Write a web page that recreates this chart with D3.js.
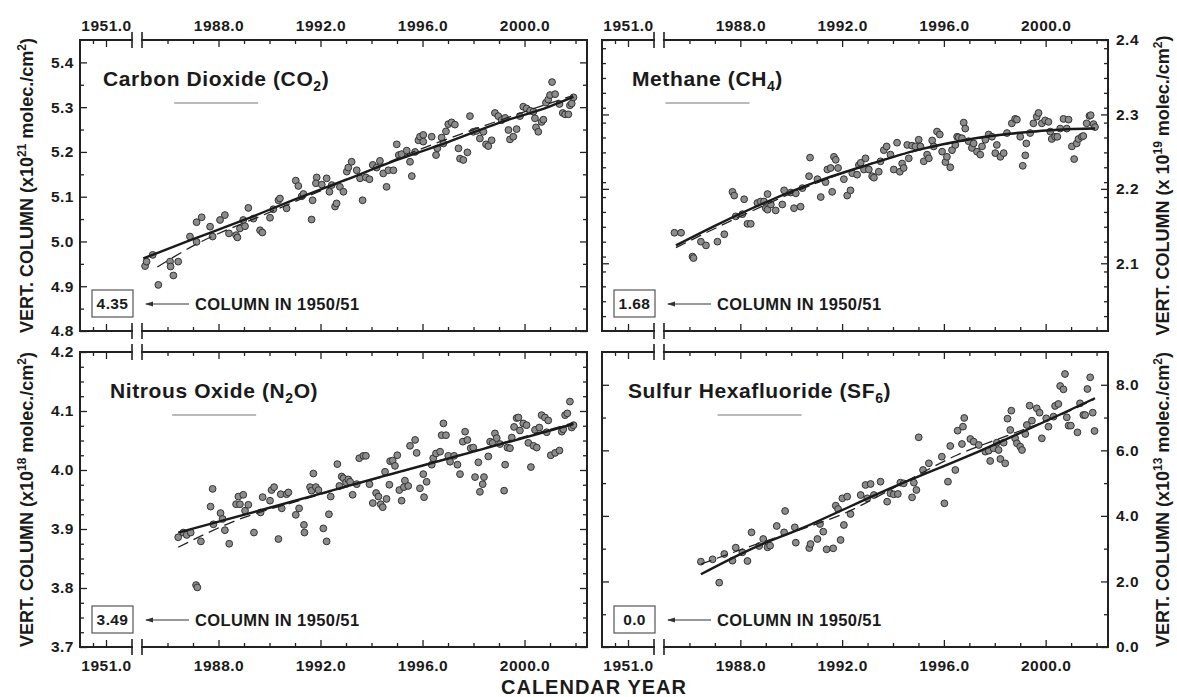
<!DOCTYPE html>
<html>
<head>
<meta charset="utf-8">
<script src="https://cdn.jsdelivr.net/npm/d3@7"></script>
<style>
body { margin: 0; background: #fff; }
svg text { font-family: "Liberation Sans", Arial, sans-serif; font-weight: bold; fill: #1a1a1a; }
</style>
</head>
<body>
<svg id="chart" width="1177" height="697"></svg>
<script>
// Daten: [Jahr, Wert]
const co2Obs = [[1985.12,4.945],[1985.18,4.955],[1985.42,4.970],[1985.64,4.903],[1986.10,4.955],[1986.12,4.944],[1986.23,4.924],[1986.42,4.955],[1986.88,5.011],[1987.14,5.043],[1987.14,4.999],[1987.34,5.054],[1987.67,5.033],[1987.77,5.011],[1988.06,5.048],[1988.25,5.059],[1988.41,5.018],[1988.69,5.014],[1988.74,5.009],[1988.84,5.029],[1988.97,5.048],[1989.04,5.034],[1989.17,5.075],[1989.37,5.051],[1989.63,5.025],[1989.72,5.020],[1990.02,5.053],[1990.15,5.072],[1990.35,5.092],[1990.41,5.096],[1990.67,5.074],[1991.03,5.136],[1991.13,5.124],[1991.26,5.101],[1991.33,5.106],[1991.69,5.092],[1991.65,5.049],[1991.85,5.143],[1991.82,5.130],[1992.05,5.127],[1992.24,5.141],[1992.35,5.111],[1992.44,5.126],[1992.57,5.078],[1992.63,5.085],[1992.76,5.122],[1992.90,5.111],[1993.03,5.156],[1993.09,5.165],[1993.22,5.178],[1993.42,5.159],[1993.55,5.141],[1993.65,5.092],[1993.78,5.143],[1993.92,5.139],[1994.05,5.171],[1994.20,5.165],[1994.33,5.180],[1994.46,5.152],[1994.59,5.122],[1994.66,5.159],[1994.86,5.159],[1994.99,5.217],[1995.07,5.193],[1995.18,5.195],[1995.38,5.203],[1995.51,5.178],[1995.58,5.146],[1995.71,5.200],[1995.84,5.226],[1995.90,5.234],[1996.03,5.238],[1996.03,5.223],[1996.36,5.234],[1996.53,5.193],[1996.58,5.208],[1996.75,5.232],[1996.82,5.219],[1996.92,5.246],[1997.01,5.262],[1997.14,5.266],[1997.27,5.261],[1997.41,5.208],[1997.47,5.185],[1997.60,5.182],[1997.76,5.199],[1997.86,5.280],[1997.99,5.245],[1998.12,5.247],[1998.25,5.230],[1998.39,5.245],[1998.49,5.217],[1998.58,5.213],[1998.71,5.226],[1998.84,5.287],[1998.97,5.280],[1999.10,5.271],[1999.24,5.276],[1999.37,5.249],[1999.43,5.228],[1999.56,5.234],[1999.69,5.251],[1999.82,5.280],[1999.95,5.301],[2000.08,5.297],[2000.22,5.292],[2000.35,5.290],[2000.41,5.275],[2000.45,5.255],[2000.54,5.245],[2000.67,5.267],[2000.74,5.272],[2000.84,5.310],[2000.93,5.317],[2001.00,5.327],[2001.08,5.356],[2001.20,5.329],[2001.37,5.307],[2001.50,5.287],[2001.59,5.284],[2001.72,5.284],[2001.78,5.304],[2001.85,5.308],[2001.92,5.322]];
const co2Fit = [[1985.05,4.962],[1987,5.005],[1989,5.048],[1991,5.094],[1993,5.138],[1995,5.182],[1997,5.222],[1999,5.265],[2001,5.302],[2001.92,5.323]];
const co2Trend = [[1985.6,4.943],[1987,4.990],[1990,5.065],[1993,5.137],[1996,5.208],[1999,5.270],[2001.9,5.326]];

const ch4Obs = [[1985.41,2.141],[1985.67,2.141],[1986.12,2.109],[1986.16,2.107],[1986.45,2.129],[1986.65,2.124],[1987.10,2.129],[1987.37,2.139],[1987.69,2.196],[1987.76,2.191],[1987.82,2.163],[1988.08,2.166],[1988.15,2.186],[1988.28,2.153],[1988.41,2.153],[1988.67,2.181],[1988.80,2.183],[1988.93,2.183],[1989.00,2.174],[1989.07,2.193],[1989.07,2.172],[1989.20,2.179],[1989.39,2.171],[1989.65,2.179],[1989.72,2.198],[1989.98,2.195],[1990.11,2.174],[1990.18,2.194],[1990.37,2.176],[1990.44,2.201],[1990.70,2.217],[1990.74,2.242],[1991.03,2.213],[1991.16,2.189],[1991.35,2.209],[1991.42,2.226],[1991.55,2.228],[1991.61,2.196],[1991.68,2.243],[1991.75,2.239],[1991.84,2.228],[1992.07,2.213],[1992.20,2.191],[1992.33,2.198],[1992.40,2.221],[1992.59,2.219],[1992.66,2.232],[1992.73,2.235],[1992.86,2.226],[1992.92,2.241],[1993.05,2.226],[1993.18,2.217],[1993.25,2.215],[1993.44,2.223],[1993.51,2.237],[1993.64,2.252],[1993.75,2.257],[1993.90,2.246],[1994.03,2.226],[1994.16,2.262],[1994.27,2.223],[1994.36,2.234],[1994.42,2.228],[1994.56,2.259],[1994.62,2.241],[1994.75,2.258],[1994.88,2.257],[1995.01,2.266],[1995.08,2.257],[1995.21,2.237],[1995.34,2.246],[1995.41,2.241],[1995.54,2.265],[1995.60,2.257],[1995.73,2.277],[1995.84,2.273],[1995.93,2.250],[1996.06,2.236],[1996.12,2.243],[1996.25,2.229],[1996.32,2.252],[1996.45,2.259],[1996.52,2.270],[1996.58,2.269],[1996.71,2.268],[1996.78,2.289],[1996.84,2.281],[1996.97,2.264],[1997.10,2.255],[1997.17,2.261],[1997.30,2.250],[1997.43,2.246],[1997.50,2.257],[1997.63,2.266],[1997.76,2.273],[1997.89,2.270],[1998.02,2.248],[1998.08,2.259],[1998.22,2.243],[1998.35,2.248],[1998.48,2.275],[1998.67,2.288],[1998.80,2.294],[1998.87,2.293],[1999.00,2.270],[1999.10,2.231],[1999.20,2.245],[1999.24,2.261],[1999.39,2.275],[1999.52,2.288],[1999.65,2.297],[1999.72,2.302],[1999.85,2.288],[1999.98,2.292],[2000.11,2.290],[2000.18,2.277],[2000.24,2.267],[2000.37,2.270],[2000.46,2.270],[2000.57,2.281],[2000.70,2.294],[2000.83,2.281],[2000.90,2.293],[2001.03,2.257],[2001.12,2.240],[2001.22,2.261],[2001.29,2.267],[2001.42,2.270],[2001.48,2.271],[2001.61,2.288],[2001.72,2.298],[2001.77,2.299],[2001.88,2.287],[2001.94,2.283]];
const ch4Fit = [[1985.47,2.124],[1987.1,2.152],[1989.07,2.183],[1991.03,2.210],[1992.99,2.232],[1994.95,2.252],[1996.91,2.266],[1998.87,2.275],[2000.83,2.280],[2001.94,2.281]];
const ch4Trend = [[1985.47,2.121],[1988,2.163],[1991,2.208],[1994,2.243],[1997,2.266],[2000,2.278],[2001.94,2.282]];

const n2oObs = [[1986.42,3.886],[1986.62,3.894],[1986.75,3.890],[1986.91,3.894],[1987.12,3.805],[1987.17,3.801],[1987.31,3.879],[1987.69,3.938],[1987.77,3.968],[1987.80,3.908],[1988.08,3.927],[1988.16,3.917],[1988.25,3.898],[1988.42,3.875],[1988.69,3.942],[1988.78,3.955],[1988.84,3.942],[1988.97,3.958],[1989.04,3.931],[1989.17,3.941],[1989.39,3.894],[1989.65,3.928],[1989.73,3.954],[1990.02,3.948],[1990.08,3.966],[1990.18,3.971],[1990.35,3.883],[1990.44,3.959],[1990.48,3.935],[1990.67,3.959],[1990.74,3.962],[1991.03,3.924],[1991.16,3.935],[1991.35,3.907],[1991.37,3.894],[1991.59,3.971],[1991.65,3.965],[1991.72,3.994],[1991.82,3.971],[1991.92,3.966],[1992.11,3.901],[1992.24,3.879],[1992.33,3.925],[1992.40,3.955],[1992.66,4.010],[1992.74,3.973],[1992.83,3.989],[1992.90,3.986],[1993.00,3.979],[1993.09,3.984],[1993.16,3.980],[1993.26,3.958],[1993.42,3.976],[1993.52,4.020],[1993.68,4.024],[1993.78,4.024],[1993.92,3.976],[1994.05,3.944],[1994.18,3.961],[1994.27,3.955],[1994.36,3.942],[1994.44,3.937],[1994.53,3.997],[1994.59,3.951],[1994.70,3.975],[1994.73,4.015],[1994.83,4.016],[1994.92,4.007],[1995.01,4.025],[1995.09,3.966],[1995.18,3.948],[1995.27,3.971],[1995.31,3.982],[1995.44,3.973],[1995.51,4.041],[1995.71,4.051],[1995.77,4.029],[1995.90,3.969],[1996.03,3.993],[1996.06,3.954],[1996.16,3.980],[1996.36,4.009],[1996.42,4.020],[1996.53,4.028],[1996.69,4.031],[1996.75,4.059],[1996.82,4.079],[1996.92,4.059],[1997.01,4.024],[1997.08,4.014],[1997.24,4.024],[1997.37,4.009],[1997.47,3.993],[1997.58,4.048],[1997.67,4.065],[1997.76,4.051],[1997.89,4.037],[1997.99,4.038],[1998.06,3.988],[1998.19,4.013],[1998.25,3.963],[1998.36,3.976],[1998.41,3.988],[1998.58,4.023],[1998.65,4.048],[1998.75,4.046],[1998.84,4.062],[1998.91,4.054],[1999.04,4.044],[1999.20,3.965],[1999.24,4.009],[1999.33,4.038],[1999.43,4.037],[1999.50,4.055],[1999.59,4.073],[1999.69,4.088],[1999.76,4.089],[1999.82,4.067],[1999.95,4.079],[2000.08,4.076],[2000.15,4.046],[2000.25,4.005],[2000.35,4.041],[2000.41,4.068],[2000.48,4.038],[2000.58,4.072],[2000.67,4.093],[2000.80,4.089],[2000.87,4.064],[2000.93,4.084],[2001.03,4.025],[2001.20,4.029],[2001.37,4.033],[2001.46,4.065],[2001.52,4.069],[2001.59,4.093],[2001.68,4.096],[2001.78,4.116],[2001.85,4.072],[2001.92,4.076]];
const n2oFit = [[1986.42,3.894],[1990,3.936],[1994,3.984],[1998,4.031],[2001.92,4.078]];
const n2oTrend = [[1986.42,3.869],[1987.5,3.892],[1988.6,3.913],[1991,3.946],[1994,3.983],[1997,4.020],[2001.92,4.080]];

const sf6Obs = [[1986.45,2.603],[1986.91,2.675],[1987.17,1.963],[1987.37,2.837],[1987.69,2.634],[1987.82,3.031],[1988.08,2.888],[1988.28,2.624],[1988.44,3.498],[1988.74,3.081],[1988.90,3.295],[1989.07,3.041],[1989.17,3.092],[1989.43,3.692],[1989.72,3.498],[1989.76,4.149],[1990.14,3.651],[1990.18,3.183],[1990.71,3.020],[1990.76,3.142],[1991.03,3.295],[1991.13,3.753],[1991.26,3.519],[1991.39,2.980],[1991.65,3.010],[1991.75,4.312],[1991.84,4.210],[1991.94,3.265],[1992.01,4.536],[1992.07,3.722],[1992.20,4.587],[1992.33,4.058],[1992.73,4.637],[1992.92,4.943],[1992.99,4.536],[1993.12,4.973],[1993.25,4.637],[1993.51,5.044],[1993.77,4.434],[1993.90,4.688],[1994.03,4.658],[1994.19,4.668],[1994.29,5.014],[1994.42,4.993],[1994.75,4.566],[1994.82,5.014],[1994.92,4.790],[1995.01,6.397],[1995.18,5.400],[1995.41,5.604],[1995.92,5.807],[1996.02,4.383],[1996.16,5.044],[1996.25,6.132],[1996.45,5.400],[1996.54,6.600],[1996.71,6.193],[1996.75,6.722],[1996.80,6.987],[1997.04,6.346],[1997.17,6.265],[1997.37,6.163],[1997.63,5.960],[1997.76,5.990],[1997.82,5.675],[1997.95,6.061],[1998.08,6.234],[1998.15,6.010],[1998.22,5.736],[1998.35,6.234],[1998.41,5.604],[1998.50,6.966],[1998.61,6.621],[1998.65,7.210],[1998.80,6.366],[1998.87,6.214],[1999.00,6.112],[1999.07,6.010],[1999.20,6.498],[1999.26,6.773],[1999.37,7.363],[1999.46,6.905],[1999.65,7.282],[1999.76,7.149],[1999.85,6.366],[2000.02,6.977],[2000.11,6.722],[2000.31,7.027],[2000.37,7.353],[2000.50,7.414],[2000.57,7.963],[2000.70,7.861],[2000.76,8.329],[2000.83,7.007],[2000.90,6.753],[2000.99,6.753],[2001.25,6.549],[2001.35,7.434],[2001.48,7.078],[2001.55,7.078],[2001.64,7.871],[2001.75,8.227],[2001.85,7.149],[2001.92,6.590]];
const sf6Fit = [[1986.45,2.22],[1988.4,2.98],[1990.5,3.65],[1993.6,4.74],[1997.56,6.03],[2001.94,7.59]];
const sf6Trend = [[1986.45,2.53],[1988.5,3.10],[1990.5,3.62],[1992,4.05],[1994.5,5.05],[1996.5,5.85],[1998.5,6.45],[2000.5,7.05],[2001.9,7.55]];

// Achsen-Beschriftungen
const yearBreaks = [1950, 1952, 1985, 2002.45];
const yearLabels = [1951, 1988, 1992, 1996, 2000];
const yearMinor = [1950.5, 1986, 1987, 1989, 1990, 1991, 1993, 1994, 1995, 1997, 1998, 1999, 2001, 2002];
const co2Ticks = [4.8, 4.9, 5.0, 5.1, 5.2, 5.3, 5.4];
const ch4Ticks = [2.1, 2.2, 2.3, 2.4];
const n2oTicks = [3.7, 3.8, 3.9, 4.0, 4.1, 4.2];
const sf6Ticks = [0, 2, 4, 6, 8];
const gasNames = [['Carbon Dioxide (CO', '2', ')'], ['Methane (CH', '4', ')'], ['Nitrous Oxide (N', '2', 'O)'], ['Sulfur Hexafluoride (SF', '6', ')']];
const baseColumns = ['4.35', '1.68', '3.49', '0.0'];
const unitPowers = ['x10', 'x 10', 'x10', 'x10'];
const unitExps = ['21', '19', '18', '13'];

const svg = d3.select('#chart');
const fmt = d3.format('.1f');

const panels = [
    { x: 80, y: 40, w: 507, h: 291, row: 0, side: 'left', tx: 23, domain: [4.8, 5.45], ticks: co2Ticks, minorStep: 0.05, obs: co2Obs, fit: co2Fit, trend: co2Trend },
    { x: 602, y: 40, w: 506, h: 291, row: 0, side: 'right', tx: 30, domain: [2.009, 2.4], ticks: ch4Ticks, minorStep: 0.02, obs: ch4Obs, fit: ch4Fit, trend: ch4Trend },
    { x: 80, y: 352, w: 507, h: 295, row: 1, side: 'left', tx: 30, domain: [3.7, 4.2], ticks: n2oTicks, minorStep: 0.025, obs: n2oObs, fit: n2oFit, trend: n2oTrend },
    { x: 602, y: 352, w: 506, h: 295, row: 1, side: 'right', tx: 26, domain: [0, 9], ticks: sf6Ticks, minorStep: 1, obs: sf6Obs, fit: sf6Fit, trend: sf6Trend }
];

function styleAxis(sel) {
    sel.select('.domain').remove();
    sel.attr('font-family', null);
    sel.selectAll('.tick text')
        .style('font-size', '15.5px')
        .style('letter-spacing', '0.5px');
    sel.selectAll('.tick line').attr('stroke', '#222').attr('stroke-width', 1.3);
}

panels.forEach((p, i) => {
    const g = svg.append('g').attr('transform', `translate(${p.x},${p.y})`);
    const x = d3.scaleLinear().domain(yearBreaks).range([0, 52, 62, p.w]);
    const y = d3.scaleLinear().domain(p.domain).range([p.h, 0]);
    const minorY = d3.range(p.domain[0], p.domain[1] - 1e-6, p.minorStep)
        .map(v => +v.toFixed(3))
        .filter(v => v > p.domain[0] && !p.ticks.some(t => Math.abs(t - v) < 1e-6));
    const none = () => '';

    // X-Achsen oben und unten (Ticks nach innen)
    g.append('g').call(d3.axisTop(x).tickValues(yearLabels).tickSize(-7).tickPadding(9)
        .tickFormat(p.row === 0 ? fmt : none)).call(styleAxis);
    g.append('g').call(d3.axisTop(x).tickValues(yearMinor).tickSize(-4).tickFormat(none)).call(styleAxis);
    g.append('g').attr('transform', `translate(0,${p.h})`)
        .call(d3.axisBottom(x).tickValues(yearLabels).tickSize(-7).tickPadding(13)
        .tickFormat(p.row === 1 ? fmt : none)).call(styleAxis);
    g.append('g').attr('transform', `translate(0,${p.h})`)
        .call(d3.axisBottom(x).tickValues(yearMinor).tickSize(-4).tickFormat(none)).call(styleAxis);

    // Y-Achsen links und rechts
    g.append('g').call(d3.axisLeft(y).tickValues(p.ticks).tickSize(-7).tickPadding(6)
        .tickFormat(p.side === 'left' ? fmt : none)).call(styleAxis);
    g.append('g').call(d3.axisLeft(y).tickValues(minorY).tickSize(-4).tickFormat(none)).call(styleAxis);
    g.append('g').attr('transform', `translate(${p.w},0)`)
        .call(d3.axisRight(y).tickValues(p.ticks).tickSize(-7).tickPadding(8)
        .tickFormat(p.side === 'right' ? fmt : none)).call(styleAxis);
    g.append('g').attr('transform', `translate(${p.w},0)`)
        .call(d3.axisRight(y).tickValues(minorY).tickSize(-4).tickFormat(none)).call(styleAxis);

    // Rahmen mit Achsenbruch
    const b0 = x(1952), b1 = x(1985);
    g.append('path')
        .attr('d', `M0,0V${p.h}M${p.w},0V${p.h}M0,0H${b0}M${b1},0H${p.w}M0,${p.h}H${b0}M${b1},${p.h}H${p.w}`)
        .attr('fill', 'none').attr('stroke', '#222').attr('stroke-width', 2).attr('stroke-linecap', 'square');
    g.append('path')
        .attr('d', [0, p.h].map(yy => `M${b0},${yy - 8}V${yy + 8}M${b1},${yy - 8}V${yy + 8}`).join(''))
        .attr('fill', 'none').attr('stroke', '#222').attr('stroke-width', 1.6);

    // Messpunkte
    g.append('g').selectAll('circle').data(p.obs).join('circle')
        .attr('cx', d => x(d[0])).attr('cy', d => y(d[1])).attr('r', 3.4)
        .attr('fill', '#8c8c8c').attr('stroke', '#333').attr('stroke-width', 1);

    // Ausgleichskurven
    const line = d3.line().x(d => x(d[0])).y(d => y(d[1])).curve(d3.curveMonotoneX);
    g.append('path').datum(p.trend).attr('d', line)
        .attr('fill', 'none').attr('stroke', '#222').attr('stroke-width', 1.3).attr('stroke-dasharray', '11,6');
    g.append('path').datum(p.fit).attr('d', line)
        .attr('fill', 'none').attr('stroke', '#1a1a1a').attr('stroke-width', 2.4);

    // Titel mit Index
    const name = gasNames[i];
    const title = g.append('text').attr('x', p.tx).attr('y', 46)
        .style('font-size', '21px').style('letter-spacing', '0.6px');
    title.append('tspan').text(name[0]);
    title.append('tspan').style('font-size', '14px').attr('dy', 5).text(name[1]);
    title.append('tspan').attr('dy', -5).text(name[2]);
    const tw = title.node().getComputedTextLength();
    g.append('line')
        .attr('x1', p.tx + tw / 2 - 42).attr('x2', p.tx + tw / 2 + 42)
        .attr('y1', 63).attr('y2', 63)
        .attr('stroke', '#777').attr('stroke-width', 1.2);

    // Säule 1950/51
    g.append('rect').attr('x', 12).attr('y', p.h - 41).attr('width', 41).attr('height', 27)
        .attr('fill', 'none').attr('stroke', '#555').attr('stroke-width', 1.2);
    g.append('text').attr('x', 32.5).attr('y', p.h - 27.5).attr('dy', '0.35em')
        .attr('text-anchor', 'middle').style('font-size', '15.5px').style('letter-spacing', '0.4px')
        .text(baseColumns[i]);
    g.append('line').attr('x1', 66).attr('x2', 109).attr('y1', p.h - 27).attr('y2', p.h - 27)
        .attr('stroke', '#333').attr('stroke-width', 1.2);
    g.append('path').attr('d', `M65,${p.h - 27}l8,-2.6v5.2z`).attr('fill', '#333');
    g.append('text').attr('x', 115).attr('y', p.h - 27).attr('dy', '0.36em')
        .style('font-size', '16.5px').style('letter-spacing', '0.4px').text('COLUMN IN 1950/51');

    // Y-Achsentitel
    const tX = p.side === 'left' ? 27 : 1163;
    const yt = svg.append('text')
        .attr('transform', `translate(${tX},${p.y + p.h / 2}) rotate(-90)`)
        .attr('text-anchor', 'middle').attr('dy', '0.35em').style('font-size', '18px');
    yt.append('tspan').text('VERT. COLUMN (' + unitPowers[i]);
    yt.append('tspan').style('font-size', '12px').attr('dy', -7).text(unitExps[i]);
    yt.append('tspan').attr('dy', 7).text(' molec./cm');
    yt.append('tspan').style('font-size', '12px').attr('dy', -7).text('2');
    yt.append('tspan').attr('dy', 7).text(')');
});

svg.append('text').attr('x', 594).attr('y', 694).attr('text-anchor', 'middle')
    .style('font-size', '20px').style('letter-spacing', '1px').text('CALENDAR YEAR');
</script>
</body>
</html>
